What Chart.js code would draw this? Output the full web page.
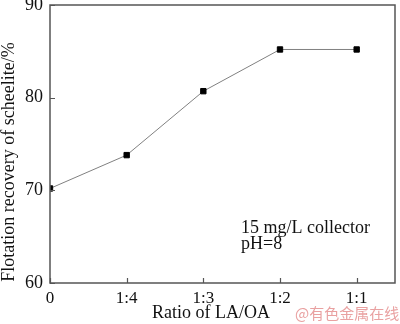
<!DOCTYPE html>
<html>
<head>
<meta charset="utf-8">
<script src="https://cdn.jsdelivr.net/npm/chart.js@4"></script>
<style>
  html, body { margin: 0; padding: 0; background: #fff; }
  #wrap { width: 400px; height: 324px; position: relative; }
</style>
</head>
<body>
<div id="wrap"><canvas id="chart"></canvas></div>
<script>
// ratio categories along the x axis
const ratioLabels = ['0', '1:4', '1:3', '1:2', '1:1'];
// flotation recovery of scheelite, %
const recovery = [70.2, 73.8, 80.7, 85.2, 85.2];
const yTicks = [60, 70, 80, 90];

const serif = '"Liberation Serif", "Times New Roman", serif';

// frame, inward ticks and free text
const framePlugin = {
    id: 'frame',
    afterDatasetsDraw(chart) {
        const ctx = chart.ctx;
        const a = chart.chartArea;
        const xs = chart.scales.x, ys = chart.scales.y;
        ctx.save();
        ctx.strokeStyle = '#555';
        ctx.lineWidth = 1.5;
        ctx.strokeRect(a.left, a.top, a.right - a.left, a.bottom - a.top);

        ctx.lineWidth = 1.2;
        ctx.beginPath();
        ratioLabels.forEach((lab, i) => {
            const px = Math.round(xs.getPixelForValue(i)) + 0.5;
            ctx.moveTo(px, a.bottom);
            ctx.lineTo(px, a.bottom - 5);
        });
        yTicks.forEach(v => {
            const py = Math.round(ys.getPixelForValue(v)) + 0.5;
            ctx.moveTo(a.left, py);
            ctx.lineTo(a.left + 5, py);
        });
        ctx.stroke();

        ctx.fillStyle = '#111';
        ctx.font = '18px ' + serif;
        ctx.textAlign = 'center';
        ctx.textBaseline = 'middle';
        ctx.fillText('Ratio of LA/OA', 211, 313);

        ctx.save();
        ctx.translate(9, 162);
        ctx.rotate(-Math.PI / 2);
        ctx.fillText('Flotation recovery of scheelite/%', 0, 0);
        ctx.restore();

        ctx.textAlign = 'left';
        ctx.textBaseline = 'alphabetic';
        ctx.font = '18px ' + serif;
        ctx.fillText('15 mg/L collector', 241, 233);
        ctx.fillText('pH=8', 241, 249);

        ctx.fillStyle = 'rgba(226, 130, 130, 0.75)';
        ctx.font = '15px "Noto Sans CJK SC", sans-serif';
        ctx.fillText('@有色金属在线', 295, 319);
        ctx.restore();
    }
};

const noPad = s => {
    s.paddingTop = 0;
    s.paddingBottom = 0;
    s.paddingLeft = 0;
    s.paddingRight = 0;
};

new Chart(document.getElementById('chart'), {
    type: 'line',
    data: {
        datasets: [{
            data: recovery.map((v, i) => ({ x: i, y: v })),
            borderColor: '#808080',
            borderWidth: 1,
            pointStyle: 'rect',
            pointRadius: 3.8,
            pointBackgroundColor: '#000',
            pointBorderColor: '#000',
            pointBorderWidth: 1,
            tension: 0
        }]
    },
    options: {
        responsive: true,
        maintainAspectRatio: false,
        animation: false,
        layout: { padding: { top: 4, right: 1, left: 0, bottom: 0 } },
        plugins: {
            legend: { display: false },
            tooltip: { enabled: false }
        },
        scales: {
            x: {
                type: 'linear',
                min: 0,
                max: 4.5,
                grid: { display: false, drawTicks: false },
                border: { display: false },
                afterBuildTicks: s => { s.ticks = ratioLabels.map((l, i) => ({ value: i })); },
                afterFit: s => { noPad(s); s.height = 41; },
                ticks: {
                    autoSkip: false,
                    padding: 5,
                    color: '#111',
                    font: { family: serif, size: 17 },
                    maxRotation: 0,
                    callback: v => ratioLabels[v] !== undefined ? ratioLabels[v] : ''
                }
            },
            y: {
                min: 60,
                max: 90,
                grid: { display: false, drawTicks: false },
                border: { display: false },
                afterBuildTicks: s => { s.ticks = yTicks.map(v => ({ value: v })); },
                afterFit: s => { noPad(s); s.width = 50; },
                ticks: {
                    padding: 7,
                    color: '#111',
                    font: { family: serif, size: 18 }
                }
            }
        }
    },
    plugins: [framePlugin]
});
</script>
</body>
</html>
